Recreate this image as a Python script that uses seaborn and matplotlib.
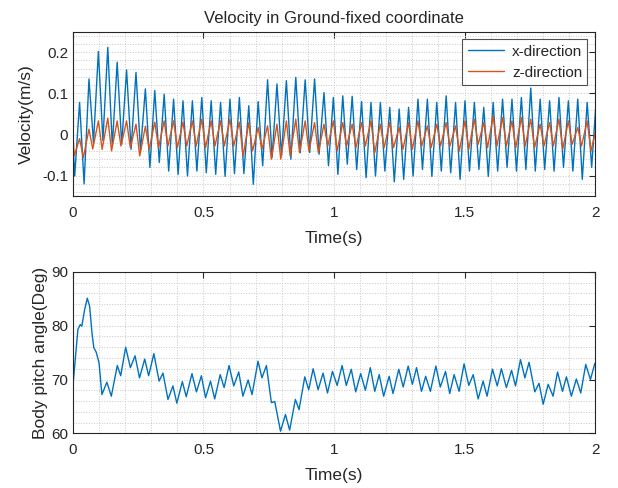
import numpy as np
import pandas as pd
import matplotlib
matplotlib.use("Agg")
import matplotlib.pyplot as plt
import seaborn as sb
from matplotlib.ticker import MultipleLocator, FormatStrFormatter

# velocity: one peak / trough per stroke cycle
x_peak = [0.078, 0.135, 0.202, 0.212, 0.176, 0.157, 0.151, 0.111, 0.107, 0.098,
          0.086, 0.082, 0.082, 0.090, 0.082, 0.078, 0.086, 0.090, 0.070, 0.080,
          0.133, 0.123, 0.131, 0.139, 0.133, 0.135, 0.102, 0.090, 0.094, 0.093,
          0.080, 0.078, 0.078, 0.066, 0.062, 0.066, 0.086, 0.086, 0.078, 0.094,
          0.078, 0.082, 0.078, 0.066, 0.078, 0.086, 0.086, 0.090, 0.113, 0.086,
          0.082, 0.090, 0.082, 0.086, 0.078, 0.098]
# trough just before each peak
x_trough = [-0.101, -0.120, -0.020, -0.015, -0.028, -0.024, -0.036, -0.040, -0.080, -0.068,
            -0.089, -0.097, -0.101, -0.089, -0.093, -0.097, -0.102, -0.095, -0.095, -0.121,
            -0.076, -0.056, -0.052, -0.060, -0.044, -0.044, -0.048, -0.076, -0.097, -0.072,
            -0.085, -0.105, -0.101, -0.089, -0.115, -0.109, -0.101, -0.085, -0.102, -0.089,
            -0.093, -0.109, -0.089, -0.085, -0.102, -0.089, -0.080, -0.089, -0.085, -0.089,
            -0.085, -0.089, -0.080, -0.089, -0.109, -0.080]
z_peak = [-0.010, 0.013, 0.033, 0.040, 0.033, 0.033, 0.025, 0.020, 0.030, 0.033,
          0.033, 0.030, 0.033, 0.037, 0.033, 0.033, 0.037, 0.030, 0.029, 0.017,
          0.021, 0.025, 0.033, 0.037, 0.033, 0.029, 0.025, 0.033, 0.029, 0.025,
          0.029, 0.033, 0.025, 0.029, 0.017, 0.029, 0.033, 0.021, 0.025, 0.029,
          0.021, 0.033, 0.037, 0.029, 0.045, 0.041, 0.033, 0.041, 0.037, 0.025,
          0.029, 0.037, 0.033, 0.017, 0.033, 0.017]
# trough just after each peak
z_trough = [-0.056, -0.035, -0.036, -0.040, -0.028, -0.032, -0.052, -0.036, -0.032, -0.028,
            -0.032, -0.028, -0.028, -0.032, -0.028, -0.028, -0.028, -0.052, -0.040, -0.036,
            -0.060, -0.060, -0.052, -0.044, -0.040, -0.044, -0.028, -0.040, -0.028, -0.032,
            -0.028, -0.044, -0.032, -0.032, -0.036, -0.036, -0.028, -0.032, -0.028, -0.028,
            -0.040, -0.036, -0.024, -0.032, -0.028, -0.028, -0.032, -0.028, -0.032, -0.028,
            -0.028, -0.036, -0.024, -0.028, -0.040]
period = 0.036     # stroke period (s)
t_first = 0.0255   # first velocity peak (s)

# body pitch angle, extrema
pitch_t = [0.000, 0.010, 0.019, 0.028, 0.034, 0.045, 0.055, 0.064, 0.073, 0.080,
           0.089, 0.100, 0.111, 0.130, 0.147, 0.170, 0.183, 0.202, 0.220, 0.238,
           0.255, 0.275, 0.290, 0.310, 0.330, 0.345, 0.364, 0.383, 0.398, 0.419,
           0.434, 0.456, 0.473, 0.492, 0.508, 0.527, 0.543, 0.564, 0.579, 0.598,
           0.616, 0.635, 0.651, 0.671, 0.686, 0.709, 0.724, 0.741, 0.760, 0.773,
           0.795, 0.814, 0.830, 0.852, 0.866, 0.888, 0.903, 0.920, 0.939, 0.958,
           0.975, 0.994, 1.012, 1.031, 1.047, 1.066, 1.083, 1.102, 1.120, 1.139,
           1.156, 1.173, 1.190, 1.211, 1.226, 1.248, 1.265, 1.284, 1.300, 1.316,
           1.335, 1.351, 1.369, 1.390, 1.407, 1.427, 1.443, 1.460, 1.479, 1.498,
           1.516, 1.533, 1.552, 1.571, 1.586, 1.607, 1.625, 1.641, 1.660, 1.680,
           1.695, 1.714, 1.731, 1.747, 1.769, 1.785, 1.801, 1.820, 1.839, 1.856,
           1.875, 1.890, 1.909, 1.928, 1.945, 1.964, 1.982, 1.999]
pitch_deg = [68.8, 74.3, 79.3, 80.2, 79.9, 83.0, 85.1, 83.6, 78.6, 75.9,
             75.1, 73.1, 67.2, 69.5, 66.9, 72.6, 70.7, 76.0, 72.2, 74.4,
             70.3, 73.8, 70.7, 74.8, 69.7, 71.2, 66.3, 68.8, 65.6, 69.6,
             66.8, 71.1, 67.7, 70.7, 66.6, 69.7, 66.4, 70.9, 68.5, 72.6,
             68.8, 71.4, 66.9, 69.9, 67.2, 73.4, 70.3, 72.6, 65.7, 65.9,
             60.4, 63.5, 60.6, 66.3, 64.4, 70.5, 68.1, 72.0, 68.1, 71.2,
             67.5, 71.5, 68.9, 72.6, 68.9, 71.9, 67.7, 71.1, 68.0, 72.2,
             67.8, 70.9, 66.9, 70.6, 67.4, 71.9, 68.6, 72.5, 69.1, 72.2,
             67.8, 70.6, 67.8, 72.5, 68.6, 71.5, 67.4, 70.9, 67.8, 72.9,
             68.9, 70.9, 66.4, 69.7, 66.9, 71.9, 68.8, 72.0, 68.5, 71.7,
             68.8, 73.7, 70.3, 73.2, 67.7, 69.3, 65.4, 69.1, 66.9, 71.4,
             67.8, 70.5, 66.9, 70.1, 67.5, 72.8, 70.0, 73.0]

BLUE = '#0072BD'
ORANGE = '#D95319'

sb.set_style("white")
plt.rcParams['font.family'] = ['Liberation Sans', 'DejaVu Sans']


def velocity_frame():
    tx, vx = [0.0], [-0.02]
    tz, vz = [0.0, 0.005], [0.0, -0.052]
    for k in range(len(x_peak)):
        tp = t_first + k * period
        tx += [tp - 0.52 * period, tp]
        vx += [x_trough[k], x_peak[k]]
        tz.append(tp)
        vz.append(z_peak[k])
        if k < len(z_trough):
            tz.append(tp + 0.4 * period)
            vz.append(z_trough[k])
    dx = pd.DataFrame({'t': tx, 'v': vx, 'dir': 'x-direction'})
    dz = pd.DataFrame({'t': tz, 'v': vz, 'dir': 'z-direction'})
    return pd.concat([dx, dz], ignore_index=True)


def style_ax(ax):
    ax.set_xlim(0, 2)
    ax.xaxis.set_major_locator(MultipleLocator(0.5))
    ax.xaxis.set_minor_locator(MultipleLocator(0.1))
    ax.xaxis.set_major_formatter(FormatStrFormatter('%g'))
    ax.grid(which='both', linestyle=':', color='#c8c8c8', linewidth=0.7)
    ax.tick_params(which='both', direction='in', top=True, right=True,
                   color='#262626', labelsize=11, labelcolor='#262626')
    ax.tick_params(which='major', length=4, width=0.8)
    ax.tick_params(which='minor', length=0)
    ax.tick_params(axis='x', pad=7)
    for s in ax.spines.values():
        s.set_color('#262626')
        s.set_linewidth(0.8)
    ax.set_xlabel('Time(s)', fontsize=12.5, labelpad=8)
    for ln in ax.get_lines():
        ln.set_solid_joinstyle('round')


fig = plt.figure(figsize=(6.18, 4.88), dpi=100)
ax1 = fig.add_axes([0.118, 0.598, 0.845, 0.337])
ax2 = fig.add_axes([0.118, 0.112, 0.845, 0.331])

vel = velocity_frame()
sb.lineplot(data=vel, x='t', y='v', hue='dir', palette=[BLUE, ORANGE],
            estimator=None, sort=False, linewidth=1.0, ax=ax1)
style_ax(ax1)
ax1.set_ylim(-0.15, 0.25)
ax1.yaxis.set_major_locator(MultipleLocator(0.1))
ax1.yaxis.set_minor_locator(MultipleLocator(0.02))
ax1.yaxis.set_major_formatter(FormatStrFormatter('%g'))
ax1.set_ylabel('Velocity(m/s)', fontsize=12.5, labelpad=6)
ax1.set_title('Velocity in Ground-fixed coordinate', fontsize=12, pad=6)
leg = ax1.legend(loc='upper right', fontsize=11, frameon=True, fancybox=False,
                 handlelength=2.4, handletextpad=0.5, borderaxespad=0.5,
                 borderpad=0.35, labelspacing=0.45)
leg.get_frame().set_edgecolor('#262626')
leg.get_frame().set_linewidth(0.8)

pitch = pd.DataFrame({'t': pitch_t, 'deg': pitch_deg})
sb.lineplot(data=pitch, x='t', y='deg', color=BLUE, estimator=None,
            linewidth=1.0, ax=ax2)
style_ax(ax2)
ax2.set_ylim(60, 90)
ax2.yaxis.set_major_locator(MultipleLocator(10))
ax2.yaxis.set_minor_locator(MultipleLocator(2))
ax2.set_ylabel('Body pitch angle(Deg)', fontsize=12.5, labelpad=2)

fig.savefig('out.png', dpi=100)
